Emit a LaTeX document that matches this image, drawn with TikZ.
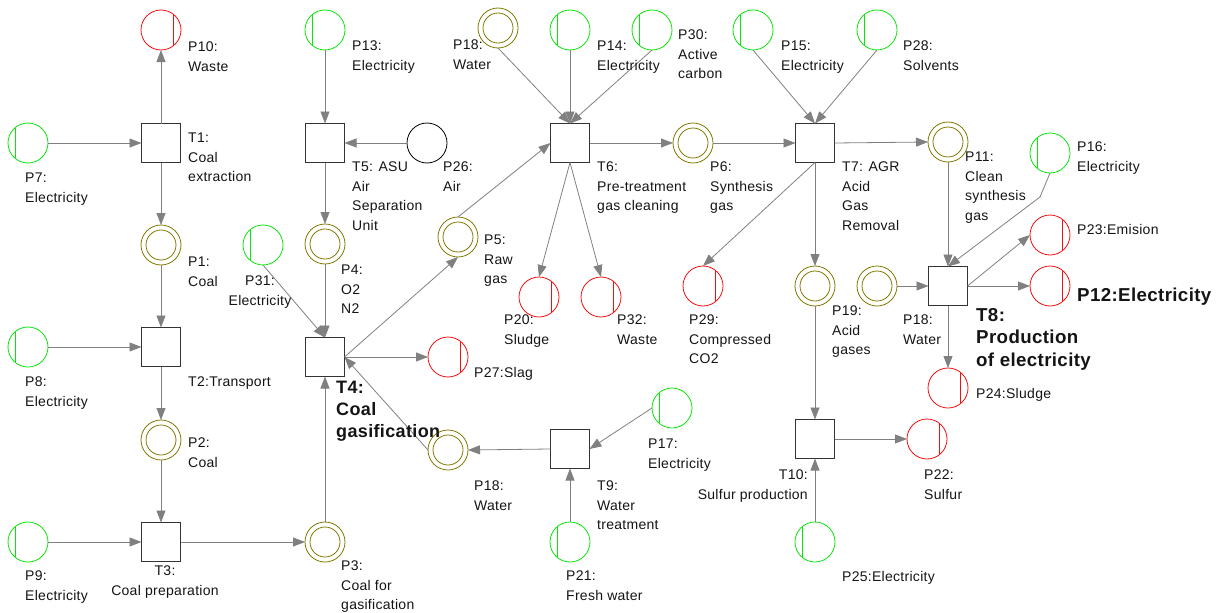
\documentclass[tikz,border=0pt]{standalone}
\usepackage{fontspec}
\setmainfont{Liberation Sans}[LetterSpace=2]
\usetikzlibrary{arrows.meta}
\definecolor{arcgray}{RGB}{128,128,128}
\definecolor{olivepl}{RGB}{128,120,0}
\definecolor{greenpl}{RGB}{10,230,10}
\definecolor{redpl}{RGB}{245,15,15}
\definecolor{textc}{RGB}{20,20,20}
\tikzset{
  trans/.style={rectangle,draw=black!80,line width=0.8pt,minimum size=39pt,inner sep=0pt,outer sep=0pt},
  inter/.style={circle,draw=olivepl,line width=0.8pt,minimum size=40pt,inner sep=0pt,outer sep=0pt,
    path picture={\draw[olivepl,line width=0.8pt] (path picture bounding box.center) circle (15pt);}},
  source/.style={circle,draw=greenpl,line width=0.8pt,minimum size=40pt,inner sep=0pt,outer sep=0pt,
    path picture={\draw[greenpl,line width=0.8pt]
      ([shift={(130:20pt)}]path picture bounding box.center) -- ([shift={(230:20pt)}]path picture bounding box.center);}},
  sink/.style={circle,draw=redpl,line width=0.8pt,minimum size=40pt,inner sep=0pt,outer sep=0pt,
    path picture={\draw[redpl,line width=0.8pt]
      ([shift={(50:20pt)}]path picture bounding box.center) -- ([shift={(-50:20pt)}]path picture bounding box.center);}},
  plain/.style={circle,draw=black,line width=0.8pt,minimum size=40pt,inner sep=0pt,outer sep=0pt},
  arc/.style={draw=arcgray,line width=0.8pt,-{Triangle[length=12pt,width=9pt]}},
  lbl/.style={anchor=north west,inner sep=0pt,align=left,text=textc,font=\fontsize{14}{19.5}\selectfont},
  lblc/.style={lbl,anchor=north,align=center},
  lblr/.style={lbl,anchor=north east,align=right},
  blbl/.style={lbl,font=\fontsize{18}{22}\selectfont\bfseries},
  blblbig/.style={lbl,font=\fontsize{18.7}{22.5}\selectfont\bfseries},
}
\begin{document}
\begin{tikzpicture}[x=1pt,y=-1pt]
\useasboundingbox (0,0) rectangle (1219,613);

% transitions
\node[trans] (T1) at (161,143) {};
\node[trans] (T2) at (161,347) {};
\node[trans] (T3) at (161,542) {};
\node[trans] (T4) at (325,357) {};
\node[trans] (T5) at (325,143) {};
\node[trans] (T6) at (570,143) {};
\node[trans] (T7) at (815,143) {};
\node[trans] (T8) at (948,286) {};
\node[trans] (T9) at (570,449) {};
\node[trans] (T10) at (815,439) {};

% places
\node[sink]   (P10) at (161,30) {};
\node[source] (P7)  at (28,143) {};
\node[inter]  (P1)  at (161,245) {};
\node[source] (P8)  at (28,347) {};
\node[inter]  (P2)  at (161,440) {};
\node[source] (P9)  at (28,542) {};
\node[inter]  (P3)  at (325,542) {};
\node[source] (P31) at (263,245) {};
\node[inter]  (P4)  at (325,244) {};
\node[source] (P13) at (325,30) {};
\node[plain]  (P26) at (427,143) {};
\node[inter]  (P5)  at (458,237) {};
\node[sink]   (P27) at (448,357) {};
\node[inter]  (P18c) at (448,450) {};
\node[source] (P17) at (672,408) {};
\node[source] (P21) at (570,542) {};
\node[inter]  (P18a) at (498,28) {};
\node[source] (P14) at (570,30) {};
\node[source] (P30) at (652,30) {};
\node[sink]   (P20) at (539,297) {};
\node[sink]   (P32) at (601,297) {};
\node[inter]  (P6)  at (693,143) {};
\node[source] (P15) at (753,30) {};
\node[source] (P28) at (877,30) {};
\node[inter]  (P11) at (948,142) {};
\node[sink]   (P29) at (703,286) {};
\node[inter]  (P19) at (815,286) {};
\node[source] (P25) at (815,542) {};
\node[sink]   (P22) at (927,439) {};
\node[inter]  (P18b) at (877,286) {};
\node[source] (P16) at (1050,153) {};
\node[sink]   (P23) at (1050,235) {};
\node[sink]   (P12) at (1050,286) {};
\node[sink]   (P24) at (948,388) {};
\coordinate (bend16) at (1040,197);

% arcs
\draw[arc] (P7.east) -- (T1.west);
\draw[arc] (T1.north) -- (P10.south);
\draw[arc] (T1.south) -- (P1.north);
\draw[arc] (P1.south) -- (T2.north);
\draw[arc] (P8.east) -- (T2.west);
\draw[arc] (T2.south) -- (P2.north);
\draw[arc] (P2.south) -- (T3.north);
\draw[arc] (P9.east) -- (T3.west);
\draw[arc] (T3.east) -- (P3.west);
\draw[arc] (P3.north) -- (T4.south);
\draw[arc] (P31.south) -- (T4.north);
\draw[arc] (P4.south) -- (T4.north);
\draw[arc] (P13.south) -- (T5.north);
\draw[arc] (P26.west) -- (T5.east);
\draw[arc] (T5.south) -- (P4.north);
\draw[arc] (T4.east) -- (P5.south);
\draw[arc] (T4.east) -- (P27.west);
\draw[arc] (P18c.west) -- (T4.east);
\draw[arc] (T9.west) -- (P18c.east);
\draw[arc] (P17.west) -- (T9.east);
\draw[arc] (P21.north) -- (T9.south);
\draw[arc] (P5.north) -- (T6.west);
\draw[arc] (P18a.south) -- (T6.north);
\draw[arc] (P14.south) -- (T6.north);
\draw[arc] (P30.south) -- (T6.north);
\draw[arc] (T6.east) -- (P6.west);
\draw[arc] (T6.south) -- (P20.north);
\draw[arc] (T6.south) -- (P32.north);
\draw[arc] (P6.east) -- (T7.west);
\draw[arc] (P15.south) -- (T7.north);
\draw[arc] (P28.south) -- (T7.north);
\draw[arc] (T7.east) -- (P11.west);
\draw[arc] (T7.south) -- (P29.north);
\draw[arc] (T7.south) -- (P19.north);
\draw[arc] (P19.south) -- (T10.north);
\draw[arc] (P25.north) -- (T10.south);
\draw[arc] (T10.east) -- (P22.west);
\draw[arc] (P11.south) -- (T8.north);
\draw[arc] (P16.south) -- (bend16) -- (T8.north);
\draw[arc] (P18b.east) -- (T8.west);
\draw[arc] (T8.east) -- (P23.west);
\draw[arc] (T8.east) -- (P12.west);
\draw[arc] (T8.south) -- (P24.north);

% labels
\node[lbl] (lP10) at (188,42) {P10:\\Waste};
\node[lbl] (lT1) at (188,133) {T1:\\Coal\\extraction};
\node[lbl] (lP7) at (25,173) {P7:\\Electricity};
\node[lbl] (lP1) at (188,257) {P1:\\Coal};
\node[lbl] (lP8) at (25,377) {P8:\\Electricity};
\node[lbl] (lT2) at (188,377) {T2:Transport};
\node[lbl] (lP2) at (188,438) {P2:\\Coal};
\node[lblc] (lT3) at (165,566) {T3:\\Coal preparation};
\node[lbl] (lP9) at (25,571) {P9:\\Electricity};
\node[lbl] (lP3) at (341,561) {P3:\\Coal for\\gasification};
\node[blbl] (lT4) at (336,381) {T4:\\Coal\\gasification};
\node[lblc] (lP31) at (260,276) {P31:\\Electricity};
\node[lbl] (lP4) at (341,265) {P4:\\O2\\N2};
\node[lbl] (lP13) at (352,41) {P13:\\Electricity};
\node[lbl] (lT5) at (352,162) {T5: ASU\\Air\\Separation\\Unit};
\node[lbl] (lP26) at (443,162) {P26:\\Air};
\node[lbl] (lP18a) at (453,40) {P18:\\Water};
\node[lbl] (lP5) at (484,235) {P5:\\Raw\\gas};
\node[lbl] (lP20) at (504,315) {P20:\\Sludge};
\node[lbl] (lP32) at (617,315) {P32:\\Waste};
\node[lbl] (lP27) at (474,367) {P27:Slag};
\node[lbl] (lT6) at (597,162) {T6:\\Pre-treatment\\gas cleaning};
\node[lbl] (lP14) at (597,41) {P14:\\Electricity};
\node[lbl] (lP30) at (678,30) {P30:\\Active\\carbon};
\node[lbl] (lP6) at (710,162) {P6:\\Synthesis\\gas};
\node[lbl] (lT7) at (842,162) {T7: AGR\\Acid\\Gas\\Removal};
\node[lbl] (lP15) at (781,41) {P15:\\Electricity};
\node[lbl] (lP28) at (903,41) {P28:\\Solvents};
\node[lbl] (lP11) at (965,152) {P11:\\Clean\\synthesis\\gas};
\node[lbl] (lP16) at (1077,142) {P16:\\Electricity};
\node[lbl] (lP23) at (1077,224) {P23:Emision};
\node[blblbig] (lP12) at (1077,288) {P12:Electricity};
\node[blblbig] (lT8) at (976,308) {T8:\\Production\\of electricity};
\node[lbl] (lP24) at (976,388) {P24:Sludge};
\node[lbl] (lP18b) at (903,315) {P18:\\Water};
\node[lbl] (lP19) at (832,306) {P19:\\Acid\\gases};
\node[lbl] (lP29) at (689,315) {P29:\\Compressed\\CO2};
\node[lblr] (lT10) at (808,470) {T10:\\Sulfur production};
\node[lbl] (lP22) at (924,470) {P22:\\Sulfur};
\node[lbl] (lP25) at (842,571) {P25:Electricity};
\node[lbl] (lP18c) at (474,481) {P18:\\Water};
\node[lbl] (lT9) at (597,481) {T9:\\Water\\treatment};
\node[lbl] (lP17) at (648,439) {P17:\\Electricity};
\node[lbl] (lP21) at (566,571) {P21:\\Fresh water};
\end{tikzpicture}
\end{document}
